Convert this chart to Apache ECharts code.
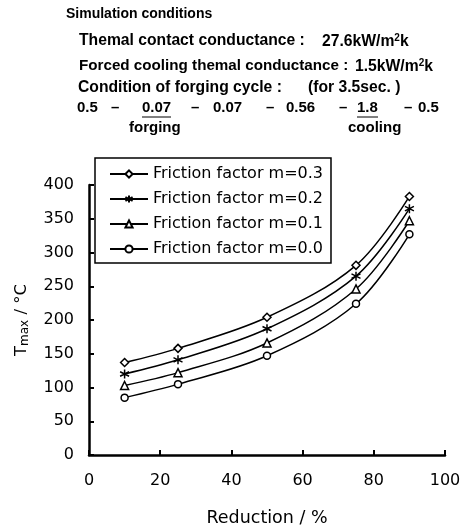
<!DOCTYPE html>
<html><head><meta charset="utf-8">
<script src="https://cdn.jsdelivr.net/npm/echarts@6/dist/echarts.min.js"></script>
<style>html,body{margin:0;padding:0;background:#fff}#c{width:467px;height:527px}</style>
</head><body><div id="c"></div>
<script>
const reduction = [10, 25, 50, 75, 90];
const seriesNames = ['Friction factor m=0.3', 'Friction factor m=0.2', 'Friction factor m=0.1', 'Friction factor m=0.0'];
const m03 = [137, 158, 204, 281, 383];
const m02 = [120, 141, 187, 265, 365];
const m01 = [103, 122, 166, 246, 347];
const m00 = [85, 105, 147, 224, 327];
const xTicks = [0, 20, 40, 60, 80, 100];
const yTicks = [0, 50, 100, 150, 200, 250, 300, 350, 400];

const values = [m03, m02, m01, m00];
const symbols = ['diamond', 'path://M0,-10L0,10M-8.66,-5L8.66,5M-8.66,5L8.66,-5', 'triangle', 'circle'];
const symSizes = [8, 9, 8, 7];
const font = '"DejaVu Sans", Lato, sans-serif';
const tfont = '"Liberation Sans", Arial, sans-serif';

const chart = echarts.init(document.getElementById('c'), null, {renderer: 'canvas'});
const series = values.map((v, i) => ({
  name: seriesNames[i],
  type: 'line',
  smooth: 0.35,
  data: reduction.map((x, j) => [x, v[j]]),
  symbol: symbols[i],
  symbolSize: symSizes[i],
  showAllSymbol: true,
  lineStyle: {color: '#000', width: 1.5},
  itemStyle: {color: '#fff', borderColor: '#000', borderWidth: 1.5},
  z: 3
}));

const F = 'bold 15.7px ' + tfont;
const F3 = 'bold 15.2px ' + tfont;
const FN = 'bold 15px ' + tfont;
const txt = (x, y, s, f) => ({type: 'text', left: x, top: y, style: {text: s, font: f || F, fill: '#000'}});
const sup = (x, y, base) => ({type: 'text', left: x, top: y, style: {rich: {n: {font: F}, s: {font: 'bold 10px ' + tfont, padding: [0, 0, 8, 0]}}, text: base, fill: '#000'}});

chart.setOption({
  animation: false,
  grid: {left: 89, right: 22, top: 185, bottom: 72, containLabel: false, outerBoundsMode: 'none'},
  legend: {
    orient: 'vertical', left: 95, top: 158,
    itemWidth: 38, itemHeight: 9, itemGap: 9,
    padding: [8, 8, 6, 14],
    borderColor: '#000', borderWidth: 1.5, backgroundColor: '#fff',
    textStyle: {fontFamily: font, fontSize: 16, color: '#000'},
    data: seriesNames
  },
  xAxis: {
    type: 'value', min: 0, max: 100, interval: 20,
    name: 'Reduction / %', nameLocation: 'middle', nameGap: 54,
    nameTextStyle: {fontFamily: font, fontSize: 17.5, color: '#000'},
    axisLine: {lineStyle: {color: '#000', width: 2.5}},
    axisTick: {inside: true, length: 5, lineStyle: {color: '#000', width: 2}},
    axisLabel: {fontFamily: font, fontSize: 16, color: '#000', margin: 18},
    splitLine: {show: false}
  },
  yAxis: {
    type: 'value', min: 0, max: 400, interval: 50,
    name: '{a|T}{b|max}{a| / °C}', nameLocation: 'middle', nameGap: 58, nameRotate: 90,
    nameTextStyle: {rich: {a: {fontFamily: font, fontSize: 16.5, color: '#000'}, b: {fontFamily: font, fontSize: 12, color: '#000', verticalAlign: 'bottom', padding: [6, 0, 0, 0]}}},
    axisLine: {show: true, lineStyle: {color: '#000', width: 2.5}},
    axisTick: {show: true, inside: true, length: 5, lineStyle: {color: '#000', width: 2}},
    axisLabel: {fontFamily: font, fontSize: 16, color: '#000', margin: 15},
    splitLine: {show: false}
  },
  graphic: [
    txt(66, 7, 'Simulation conditions', 'bold 14px ' + tfont),
    txt(79, 33, 'Themal contact conductance :'),
    sup(322, 33, '{n|27.6kW/m}{s|2}{n|k}'),
    txt(79, 58, 'Forced cooling themal conductance :', F3),
    sup(355, 58, '{n|1.5kW/m}{s|2}{n|k}'),
    txt(78, 80, 'Condition of forging cycle :'),
    txt(308, 80, '(for 3.5sec. )'),
    txt(77, 100, '0.5', FN),
    txt(111, 100, '–', FN),
    txt(142, 100, '0.07', FN),
    txt(191, 100, '–', FN),
    txt(213, 100, '0.07', FN),
    txt(266, 100, '–', FN),
    txt(286, 100, '0.56', FN),
    txt(339, 100, '–', FN),
    txt(357, 100, '1.8', FN),
    txt(404, 100, '–', FN),
    txt(418, 100, '0.5', FN),
    {type: 'line', shape: {x1: 142, y1: 117, x2: 171, y2: 117}, style: {stroke: '#000', lineWidth: 1}},
    {type: 'line', shape: {x1: 357, y1: 117, x2: 378, y2: 117}, style: {stroke: '#000', lineWidth: 1}},
    txt(129, 120, 'forging', FN),
    txt(348, 120, 'cooling', FN)
  ],
  series: series
});
</script></body></html>
